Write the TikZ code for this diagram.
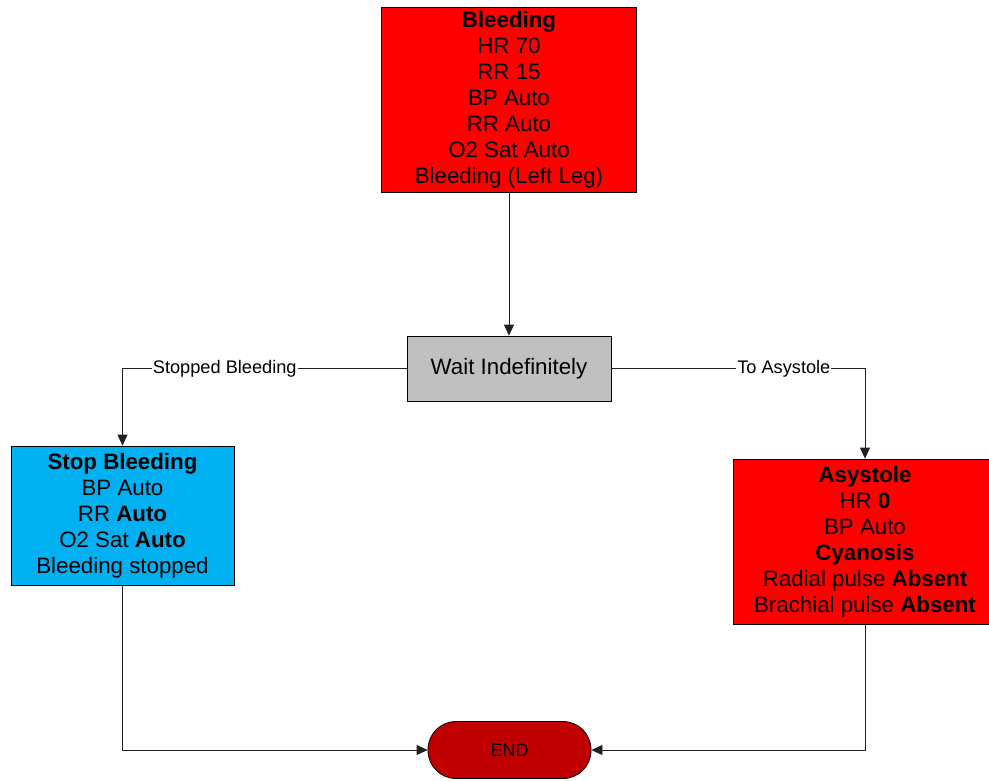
\documentclass[tikz,border=0pt]{standalone}
\usepackage{fontspec}
\setmainfont{Liberation Sans}
\usetikzlibrary{arrows.meta}
\definecolor{boxred}{HTML}{FF0000}
\definecolor{boxblue}{HTML}{00B0F0}
\definecolor{boxgray}{HTML}{C0C0C0}
\definecolor{enddark}{HTML}{C00000}
\definecolor{linegray}{HTML}{202020}
\tikzset{
  state/.style={draw=black, line width=0.8pt, inner sep=0pt, align=center,
    font=\fontsize{22.3}{26}\selectfont},
  conn/.style={draw=linegray, line width=0.8pt, -{Triangle[length=11pt,width=10pt]}},
  elabel/.style={fill=white, inner sep=1pt, font=\fontsize{18.2}{20}\selectfont},
}
\begin{document}
\begin{tikzpicture}[x=1pt,y=-1pt]
\useasboundingbox (0,0) rectangle (989,780);
\node[state, fill=boxred, minimum width=255pt, minimum height=185pt] (bleed) at (509,99.5)
  {\textbf{Bleeding}\\HR 70\\RR 15\\BP Auto\\RR Auto\\O2 Sat Auto\\Bleeding (Left Leg)};
\node[state, fill=boxgray, minimum width=204pt, minimum height=65pt] (wait) at (509,368.5)
  {Wait Indefinitely};
\node[state, fill=boxblue, minimum width=223pt, minimum height=139pt] (stop) at (122.5,515.5)
  {\textbf{Stop Bleeding}\\BP Auto\\RR \textbf{Auto}\\O2 Sat \textbf{Auto}\\Bleeding stopped};
\node[state, fill=boxred, minimum width=264pt, minimum height=165pt] (asys) at (865,541.5)
  {\textbf{Asystole}\\HR \textbf{0}\\BP Auto\\\textbf{Cyanosis}\\Radial pulse \textbf{Absent}\\Brachial pulse \textbf{Absent}};
\node[draw=black, line width=0.8pt, fill=enddark, rounded corners=28pt, minimum width=163pt,
  minimum height=57pt, inner sep=0pt, font=\fontsize{18}{20}\selectfont] (end) at (509.5,750) {END};
\draw[conn] (bleed.south) -- (wait.north);
\draw[conn] (wait.west) -| node[elabel, pos=0.32] {Stopped Bleeding} (stop.north);
\draw[conn] (wait.east) -| node[elabel, pos=0.34] {To Asystole} (asys.north);
\draw[conn] (stop.south) |- (end.west);
\draw[conn] (asys.south) |- (end.east);
\end{tikzpicture}
\end{document}
